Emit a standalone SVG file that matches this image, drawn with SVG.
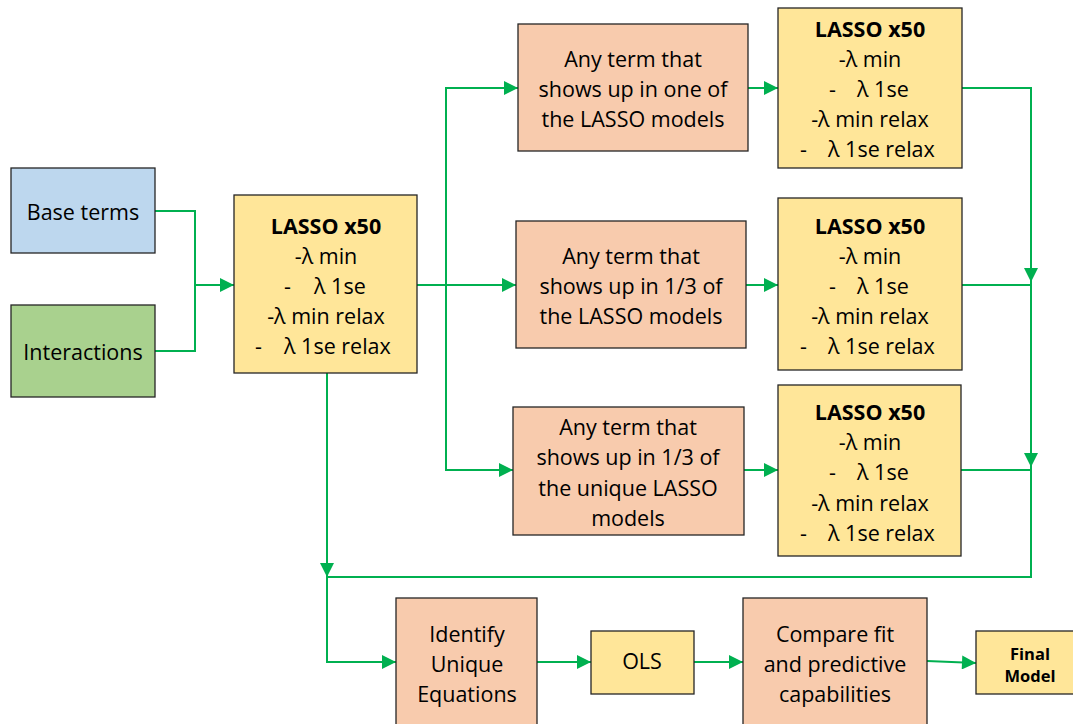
<svg xmlns="http://www.w3.org/2000/svg" width="1073" height="724" viewBox="0 0 1073 724">
<style>
.box{stroke:#262626;stroke-width:1.3}
.blue{fill:#BDD7EE}.green{fill:#A9D18E}.yel{fill:#FFE699}.org{fill:#F8CBAD}
text{font-family:"Open Sans","Liberation Sans",sans-serif;font-size:21.5px;fill:#000;text-anchor:middle;dominant-baseline:central}
.b{font-weight:bold}
.s{text-anchor:start}
.f{font-size:16.5px;font-weight:bold}
.conn{fill:none;stroke:#00B050;stroke-width:2}
</style>
<defs>
<marker id="a" viewBox="0 0 10 10" refX="10" refY="5" markerWidth="16" markerHeight="14" markerUnits="userSpaceOnUse" orient="auto">
<path d="M0,0 L10,5 L0,10 z" fill="#00B050"/>
</marker>
</defs>
<rect width="1073" height="724" fill="#fff"/>
<g id="connectors">
<polyline class="conn" points="155,211 195,211 195,351 155,351"/>
<line class="conn" x1="195" y1="285" x2="234" y2="285" marker-end="url(#a)"/>
<line class="conn" x1="417" y1="285" x2="516" y2="285" marker-end="url(#a)"/>
<polyline class="conn" points="518,88 446,88 446,470 513,470"/>
<line class="conn" x1="446" y1="88" x2="518" y2="88" marker-end="url(#a)"/>
<line class="conn" x1="446" y1="470" x2="513" y2="470" marker-end="url(#a)"/>
<line class="conn" x1="748" y1="88" x2="778" y2="88" marker-end="url(#a)"/>
<line class="conn" x1="746" y1="285" x2="778" y2="285" marker-end="url(#a)"/>
<line class="conn" x1="744" y1="470" x2="778" y2="470" marker-end="url(#a)"/>
<polyline class="conn" points="962,88 1031,88 1031,577 327,577"/>
<line class="conn" x1="962" y1="285" x2="1031" y2="285"/>
<line class="conn" x1="961" y1="470" x2="1031" y2="470"/>
<line class="conn" x1="1031" y1="260" x2="1031" y2="282" marker-end="url(#a)"/>
<line class="conn" x1="1031" y1="445" x2="1031" y2="467" marker-end="url(#a)"/>
<line class="conn" x1="327" y1="373" x2="327" y2="577" marker-end="url(#a)"/>
<polyline class="conn" points="327,577 327,662 396,662" marker-end="url(#a)"/>
<line class="conn" x1="537" y1="662" x2="591" y2="662" marker-end="url(#a)"/>
<line class="conn" x1="694" y1="662" x2="743" y2="662" marker-end="url(#a)"/>
<line class="conn" x1="927" y1="661" x2="976" y2="663" marker-end="url(#a)"/>
</g>
<g id="base-terms"><rect class="box blue" x="11" y="168" width="144" height="85"/><text x="83" y="211">Base terms</text></g>
<g id="interactions"><rect class="box green" x="11" y="305" width="144" height="92"/><text x="83" y="351">Interactions</text></g>
<g id="lasso-main"><rect class="box yel" x="234" y="195" width="183" height="178"/>
<text class="b" x="326" y="225">LASSO x50</text><text x="326" y="255">-λ min</text>
<text class="s" x="284" y="285">-</text><text class="s" x="314" y="285">λ 1se</text>
<text x="326" y="315">-λ min relax</text>
<text class="s" x="255" y="345">-</text><text class="s" x="284" y="345">λ 1se relax</text></g>
<g id="any-one"><rect class="box org" x="518" y="24" width="230" height="127"/>
<text x="633" y="58">Any term that</text><text x="633" y="88">shows up in one of</text><text x="633" y="118">the LASSO models</text></g>
<g id="any-third"><rect class="box org" x="516" y="221" width="230" height="127"/>
<text x="631" y="255">Any term that</text><text x="631" y="285">shows up in 1/3 of</text><text x="631" y="315">the LASSO models</text></g>
<g id="any-unique"><rect class="box org" x="513" y="407" width="231" height="128"/>
<text x="628" y="426">Any term that</text><text x="628" y="456">shows up in 1/3 of</text><text x="628" y="487">the unique LASSO</text><text x="628" y="517">models</text></g>
<g id="lasso-top"><rect class="box yel" x="778" y="8" width="184" height="160"/>
<text class="b" x="870" y="28">LASSO x50</text><text x="870" y="58">-λ min</text>
<text class="s" x="829" y="88">-</text><text class="s" x="857" y="88">λ 1se</text>
<text x="870" y="118">-λ min relax</text>
<text class="s" x="800" y="148">-</text><text class="s" x="828" y="148">λ 1se relax</text></g>
<g id="lasso-mid"><rect class="box yel" x="778" y="198" width="184" height="172"/>
<text class="b" x="870" y="225">LASSO x50</text><text x="870" y="255">-λ min</text>
<text class="s" x="829" y="285">-</text><text class="s" x="857" y="285">λ 1se</text>
<text x="870" y="315">-λ min relax</text>
<text class="s" x="800" y="345">-</text><text class="s" x="828" y="345">λ 1se relax</text></g>
<g id="lasso-bot"><rect class="box yel" x="778" y="385" width="183" height="171"/>
<text class="b" x="870" y="411">LASSO x50</text><text x="870" y="441">-λ min</text>
<text class="s" x="829" y="471">-</text><text class="s" x="857" y="471">λ 1se</text>
<text x="870" y="502">-λ min relax</text>
<text class="s" x="800" y="532">-</text><text class="s" x="828" y="532">λ 1se relax</text></g>
<g id="identify"><rect class="box org" x="396" y="598" width="141" height="140"/>
<text x="467" y="633">Identify</text><text x="467" y="663">Unique</text><text x="467" y="693">Equations</text></g>
<g id="ols"><rect class="box yel" x="591" y="631" width="103" height="63"/><text x="642" y="660">OLS</text></g>
<g id="compare"><rect class="box org" x="743" y="598" width="184" height="140"/>
<text x="835" y="633">Compare fit</text><text x="835" y="663">and predictive</text><text x="835" y="693">capabilities</text></g>
<g id="final"><rect class="box yel" x="976" y="631" width="110" height="63"/>
<text class="f" x="1030" y="653">Final</text><text class="f" x="1030" y="675">Model</text></g>
</svg>
